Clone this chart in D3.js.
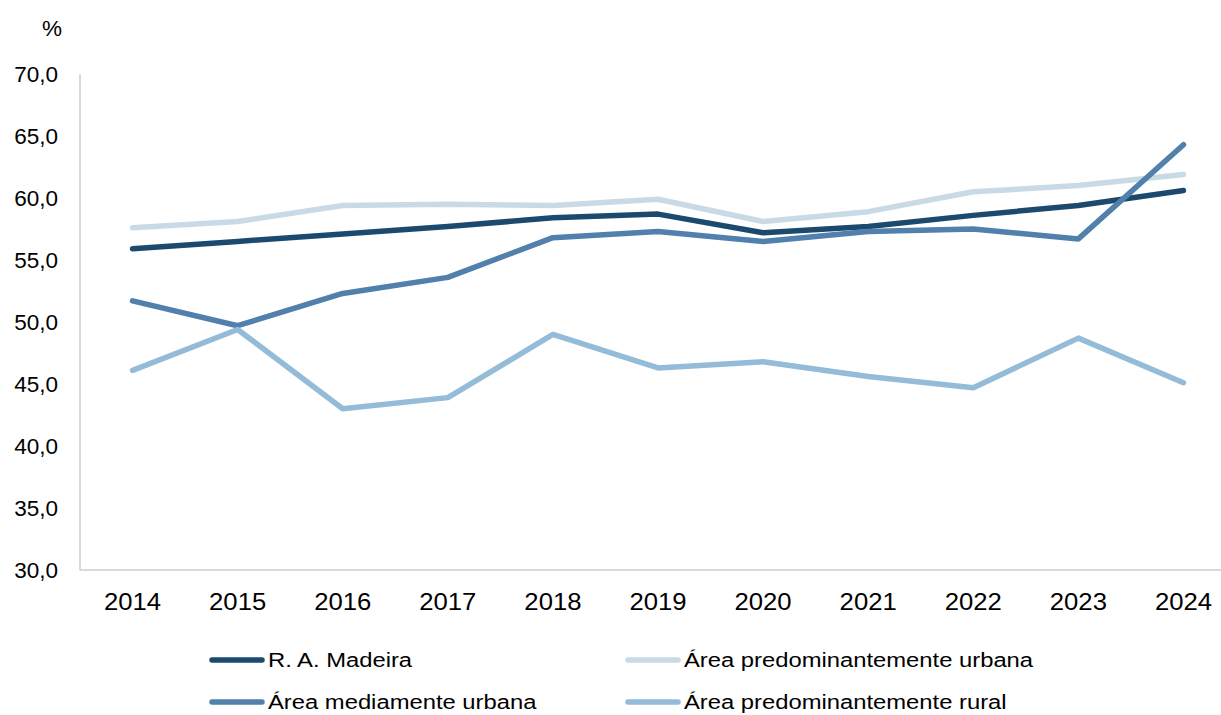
<!DOCTYPE html>
<html>
<head>
<meta charset="utf-8">
<script src="https://cdn.jsdelivr.net/npm/d3@7"></script>
<style>
  body { margin: 0; background: #fff; }
  text { font-family: "Liberation Sans", Arial, sans-serif; fill: #000; }
</style>
</head>
<body>
<svg id="chart" width="1221" height="715"></svg>
<script>
// Data
const years = ["2014", "2015", "2016", "2017", "2018", "2019", "2020", "2021", "2022", "2023", "2024"];
const madeira = [55.9, 56.5, 57.1, 57.7, 58.4, 58.7, 57.2, 57.7, 58.6, 59.4, 60.6];
const urbana = [57.6, 58.1, 59.4, 59.5, 59.4, 59.9, 58.1, 58.9, 60.5, 61.0, 61.9];
const mediamente = [51.7, 49.7, 52.3, 53.6, 56.8, 57.3, 56.5, 57.3, 57.5, 56.7, 64.3];
const rural = [46.1, 49.4, 43.0, 43.9, 49.0, 46.3, 46.8, 45.6, 44.7, 48.7, 45.1];
const yTicks = [30, 35, 40, 45, 50, 55, 60, 65, 70];

const series = [
  { name: "R. A. Madeira", values: madeira, color: "#1c4a6e" },
  { name: "Área predominantemente urbana", values: urbana, color: "#c9dae7" },
  { name: "Área mediamente urbana", values: mediamente, color: "#5080ab" },
  { name: "Área predominantemente rural", values: rural, color: "#94bbd8" }
];

const svg = d3.select("#chart");
const margin = { left: 80, right: -15, top: 74, bottom: 145 };
const width = 1221, height = 715;
// labels in the picture are drawn a bit wide
const xStretch = 1.07;
const legendStretch = 1.19;

const x = d3.scalePoint()
  .domain(years)
  .range([margin.left, width - margin.right])
  .padding(0.5);

const y = d3.scaleLinear()
  .domain([30, 70])
  .range([height - margin.bottom, margin.top]);

// axis lines
svg.append("line")
  .attr("x1", margin.left).attr("x2", margin.left)
  .attr("y1", y(70)).attr("y2", y(30))
  .attr("stroke", "#d9d9d9").attr("stroke-width", 2);
svg.append("line")
  .attr("x1", margin.left).attr("x2", width - margin.right)
  .attr("y1", y(30)).attr("y2", y(30))
  .attr("stroke", "#d9d9d9").attr("stroke-width", 2);

// y tick labels
svg.selectAll(".ytick")
  .data(yTicks)
  .enter().append("text")
  .attr("class", "ytick")
  .attr("x", 58)
  .attr("y", d => y(d))
  .attr("dy", "0.35em")
  .attr("text-anchor", "end")
  .style("font-size", "22.5px")
  .text(d => d3.format(".1f")(d).replace(".", ","));

svg.append("text")
  .attr("x", 52).attr("y", 28)
  .attr("dy", "0.35em")
  .attr("text-anchor", "middle")
  .style("font-size", "22.5px")
  .text("%");

// x tick labels
svg.selectAll(".xtick")
  .data(years)
  .enter().append("text")
  .attr("class", "xtick")
  .attr("transform", d => `translate(${x(d)},602) scale(${xStretch},1)`)
  .attr("dy", "0.35em")
  .attr("text-anchor", "middle")
  .style("font-size", "24px")
  .text(d => d);

// lines
const line = d3.line()
  .x((d, i) => x(years[i]))
  .y(d => y(d));

svg.selectAll(".series")
  .data(series)
  .enter().append("path")
  .attr("class", "series")
  .attr("d", d => line(d.values))
  .attr("fill", "none")
  .attr("stroke", d => d.color)
  .attr("stroke-width", 5.5)
  .attr("stroke-linecap", "round")
  .attr("stroke-linejoin", "round");

// legend
const legendPos = [
  { x: 212, y: 660 },
  { x: 628, y: 660 },
  { x: 212, y: 702 },
  { x: 628, y: 702 }
];

const legend = svg.selectAll(".legend")
  .data(series)
  .enter().append("g")
  .attr("class", "legend")
  .attr("transform", (d, i) => `translate(${legendPos[i].x},${legendPos[i].y})`);

legend.append("line")
  .attr("x1", 0).attr("x2", 50)
  .attr("stroke", d => d.color)
  .attr("stroke-width", 5.5)
  .attr("stroke-linecap", "round");

legend.append("text")
  .attr("transform", `translate(56,0) scale(${legendStretch},1)`)
  .attr("dy", "0.35em")
  .style("font-size", "20px")
  .text(d => d.name);
</script>
</body>
</html>
